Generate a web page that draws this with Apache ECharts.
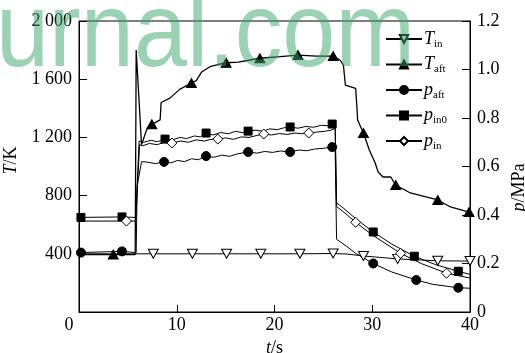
<!DOCTYPE html>
<html>
<head>
<meta charset="utf-8">
<script src="https://cdn.jsdelivr.net/npm/echarts@6/dist/echarts.min.js"></script>
<style>
    html, body { margin: 0; padding: 0; background: #fff; }
    #chart { width: 525px; height: 353px; }
</style>
</head>
<body>
<div id="chart"></div>
<script>
// [t (s), value, marker?]
const tIn = [
    [0, 400], [7.6, 400, 1], [11.6, 400, 1], [15.1, 400, 1], [18.6, 400, 1], [22.6, 400, 1],
    [26, 402, 1], [27.5, 398], [29.1, 385, 1], [32.6, 365, 1], [36.7, 352, 1], [40, 350, 1]
];

const tAft = [
    [0, 395], [3.5, 395, 1], [5.75, 395], [5.85, 1800], [6.4, 1150], [6.9, 1250], [7.45, 1290, 1],
    [8.3, 1320], [8.4, 1440], [9.3, 1470], [10.3, 1530], [11.5, 1574, 1], [12.0, 1590], [12.55, 1650],
    [13.4, 1686], [14.2, 1700], [15.05, 1713, 1], [16.3, 1718], [17.5, 1732], [18.5, 1744, 1],
    [20.6, 1755], [22.4, 1766, 1], [24.3, 1759], [26.0, 1759, 1], [26.7, 1732], [27.05, 1697],
    [27.25, 1560], [28.3, 1537], [28.45, 1388], [28.5, 1320], [29.1, 1230, 1], [29.7, 1113],
    [30.3, 1024], [30.6, 962], [31.1, 928], [31.9, 928], [32.4, 873, 1], [33.9, 818],
    [36.7, 770, 1], [38, 722], [39.9, 687, 1]
];

const pAft = [
    [0, 0.245], [0.2, 0.245, 1], [4.4, 0.25, 1], [5.85, 0.245], [5.95, 0.52], [6.4, 0.62],
    [7.0, 0.618], [7.8, 0.612], [8.7, 0.619, 1], [9.4, 0.615], [10.1, 0.625], [10.8, 0.62],
    [11.5, 0.632], [12.2, 0.628], [13.0, 0.643, 1], [13.8, 0.638], [14.6, 0.647], [15.4, 0.642],
    [16.2, 0.652], [17.3, 0.66, 1], [18.2, 0.655], [19.0, 0.662], [19.8, 0.658], [20.6, 0.664],
    [21.6, 0.66, 1], [22.5, 0.668], [23.3, 0.665], [24.1, 0.672], [25.0, 0.675], [25.9, 0.68, 1],
    [26.2, 0.685], [26.35, 0.30], [26.7, 0.29], [27.4, 0.27], [28.3, 0.242], [30.1, 0.2, 1],
    [32, 0.165], [34.5, 0.132, 1], [36.2, 0.114], [38.8, 0.1, 1], [40, 0.098]
];

const pIn0 = [
    [0, 0.39], [0.2, 0.39, 1], [4.4, 0.392, 1], [5.8, 0.39], [6.15, 0.705], [6.6, 0.70],
    [7.4, 0.708], [8.0, 0.702], [8.8, 0.713, 1], [9.6, 0.71], [10.3, 0.72], [11.0, 0.715],
    [11.8, 0.726], [12.4, 0.722], [13.0, 0.738, 1], [13.7, 0.73], [14.5, 0.74], [15.3, 0.735],
    [16.0, 0.745], [16.7, 0.74], [17.3, 0.746, 1], [18.1, 0.75], [18.8, 0.745], [19.5, 0.755],
    [20.3, 0.752], [21.0, 0.76], [21.6, 0.763, 1], [22.4, 0.758], [23.2, 0.765], [24.0, 0.762],
    [24.8, 0.77], [25.5, 0.768], [25.9, 0.775, 1], [26.2, 0.785], [26.35, 0.45], [27, 0.43],
    [28.3, 0.385], [30.1, 0.33, 1], [32, 0.28], [34.3, 0.23, 1], [36.5, 0.195], [38.8, 0.168, 1],
    [40, 0.155]
];

const pIn = [
    [0, 0.375], [4.85, 0.375, 1], [5.8, 0.375], [6.2, 0.69], [6.5, 0.685], [7.2, 0.695],
    [8.0, 0.69], [8.7, 0.70], [9.5, 0.697, 1], [10.4, 0.705], [11.2, 0.70], [12.0, 0.71],
    [12.8, 0.705], [13.5, 0.712], [14.2, 0.713, 1], [15.0, 0.718], [15.8, 0.712], [16.6, 0.722],
    [17.4, 0.72], [18.2, 0.728], [18.9, 0.734, 1], [19.7, 0.73], [20.5, 0.736], [21.3, 0.732],
    [22.1, 0.738], [22.8, 0.735], [23.5, 0.738, 1], [24.3, 0.742], [25.1, 0.745], [25.8, 0.75],
    [26.2, 0.757], [26.35, 0.435], [27, 0.415], [28.3, 0.37, 1], [30.1, 0.315], [32.9, 0.242, 1],
    [35, 0.2], [37.6, 0.16, 1], [40, 0.14]
];

const legendLabels = {
    Tin: ["T", "in"],
    Taft: ["T", "aft"],
    paft: ["p", "aft"],
    pin0: ["p", "in0"],
    pin: ["p", "in"]
};

const serif = "'Liberation Serif', 'Times New Roman', serif";

function toData(points) {
    return points.map(p => {
        const item = { value: [p[0], p[1]] };
        if (!p[2]) {
            item.symbol = "none";
        }
        return item;
    });
}

function lineSeries(name, points, yAxisIndex, marker) {
    return Object.assign({
        name,
        type: "line",
        yAxisIndex,
        data: toData(points),
        showAllSymbol: true,
        animation: false,
        lineStyle: { color: "#000", width: 1 },
        itemStyle: { color: "#000", borderColor: "#000", borderWidth: 1 }
    }, marker);
}

const tickText = { color: "#000", fontFamily: serif, fontSize: 18 };
const nameText = {
    color: "#000", fontFamily: serif, fontSize: 18,
    rich: { i: { fontStyle: "italic", fontFamily: serif, fontSize: 18, color: "#000" } }
};

const chart = echarts.init(document.getElementById("chart"));

chart.setOption({
    animation: false,
    grid: {
        left: 79, right: 55, top: 21, bottom: 41,
        outerBoundsMode: "none",
        containLabel: false,
        show: true, borderColor: "#000", borderWidth: 1
    },
    legend: {
        orient: "vertical",
        left: 380,
        top: 25,
        itemWidth: 36,
        itemHeight: 10,
        itemGap: 6,
        data: ["Tin", "Taft", "paft", "pin0", "pin"],
        formatter: name => `{i|${legendLabels[name][0]}}{s|${legendLabels[name][1]}}`,
        textStyle: {
            padding: [0, 0, 0, -3],
            rich: {
                i: { fontFamily: serif, fontStyle: "italic", fontSize: 18, color: "#000" },
                s: { fontFamily: serif, fontSize: 11, color: "#000", padding: [10, 0, 0, 0] }
            }
        }
    },
    xAxis: {
        type: "value",
        min: 0, max: 40, interval: 10,
        name: "{i|t}/s",
        nameLocation: "middle",
        nameGap: 24,
        nameTextStyle: nameText,
        axisLine: { lineStyle: { color: "#000", width: 1 } },
        axisTick: { inside: true, length: 7, lineStyle: { color: "#000" } },
        axisLabel: Object.assign({
            margin: 4,
            formatter: v => (v === 0 ? "{z|0}" : String(v)),
            rich: { z: { fontFamily: serif, fontSize: 18, color: "#000", padding: [0, 20, 0, 0] } }
        }, tickText),
        splitLine: { show: false }
    },
    yAxis: [
        {
            type: "value",
            min: 0, max: 2000, interval: 400,
            name: "{i|T}/K",
            nameLocation: "middle",
            nameRotate: 90,
            nameGap: 56,
            nameTextStyle: Object.assign({ padding: [0, 0, 0, 12] }, nameText),
            axisLine: { show: true, lineStyle: { color: "#000", width: 1 } },
            axisTick: { show: true, inside: true, length: 8, lineStyle: { color: "#000" } },
            axisLabel: Object.assign({
                margin: 7,
                formatter: v => {
                    if (v === 0) return "";
                    return v >= 1000 ? String(v).replace(/(\d)(\d{3})$/, "$1 $2") : String(v);
                }
            }, tickText),
            splitLine: { show: false }
        },
        {
            type: "value",
            position: "right",
            min: 0, max: 1.2, interval: 0.2,
            name: "{i|p}/MPa",
            nameLocation: "middle",
            nameRotate: 90,
            nameGap: 29,
            nameTextStyle: Object.assign({ padding: [0, 42, 0, 0] }, nameText),
            axisLine: { show: true, lineStyle: { color: "#000", width: 1 } },
            axisTick: { show: true, inside: true, length: 8, lineStyle: { color: "#000" } },
            axisLabel: Object.assign({
                margin: 7,
                formatter: v => (v === 0 ? "0" : v.toFixed(1))
            }, tickText),
            splitLine: { show: false }
        }
    ],
    series: [
        lineSeries("Tin", tIn, 0, {
            symbol: "triangle", symbolSize: [10, 9], symbolRotate: 180,
            itemStyle: { color: "#fff", borderColor: "#000", borderWidth: 1 }
        }),
        lineSeries("Taft", tAft, 0, {
            symbol: "triangle", symbolSize: [10, 9],
            lineStyle: { color: "#000", width: 1.3 }
        }),
        lineSeries("paft", pAft, 1, { symbol: "circle", symbolSize: 9 }),
        lineSeries("pin0", pIn0, 1, { symbol: "rect", symbolSize: 8 }),
        lineSeries("pin", pIn, 1, {
            symbol: "diamond", symbolSize: [10, 10],
            itemStyle: { color: "#fff", borderColor: "#000", borderWidth: 1 }
        })
    ],
    graphic: [
        {
            type: "text",
            x: -4,
            y: -16,
            scaleX: 0.9,
            z: 100,
            silent: true,
            style: {
                text: "urnal.com",
                fontFamily: "Liberation Sans",
                fontSize: 106,
                fill: "rgba(55,165,105,0.5)"
            }
        }
    ]
});
</script>
</body>
</html>
